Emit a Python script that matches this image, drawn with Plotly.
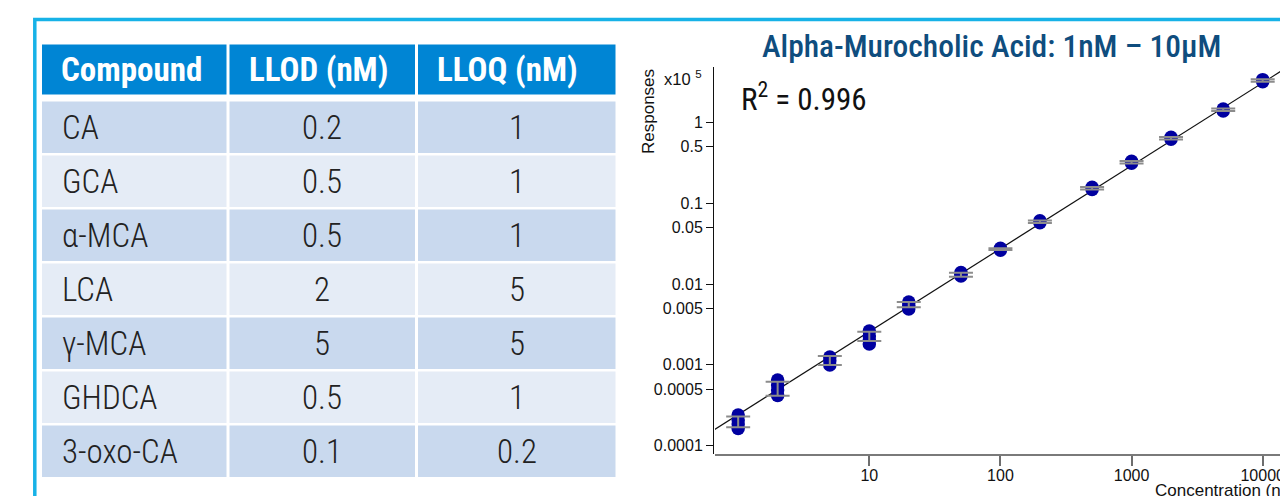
import numpy as np
import plotly.graph_objects as go

# ---------------- table contents ----------------
headers = ["Compound", "LLOD (nM)", "LLOQ (nM)"]
compounds = ["CA", "GCA", "α-MCA", "LCA", "γ-MCA", "GHDCA", "3-oxo-CA"]
llod_nm = ["0.2", "0.5", "0.5", "2", "5", "0.5", "0.1"]
lloq_nm = ["1", "1", "1", "5", "5", "1", "0.2"]

# ---------------- calibration data (responses, x10^5) ----------------
conc_nm = [1, 2, 5, 10, 20, 50, 100, 200, 500, 1000, 2000, 5000, 10000]
replicates = [
    [2.40e-4, 2.08e-4, 1.85e-4, 1.63e-4],
    [6.50e-4, 5.64e-4, 4.89e-4, 4.18e-4],
    [1.25e-3, 1.12e-3, 9.96e-4],
    [2.62e-3, 2.28e-3, 2.03e-3, 1.81e-3],
    [5.98e-3, 5.42e-3, 4.91e-3],
    [1.387e-2, 1.32e-2, 1.255e-2],
    [2.77e-2, 2.61e-2],
    [6.07e-2, 5.73e-2],
    [0.157, 0.148],
    [0.329, 0.311],
    [0.652, 0.616],
    [1.46, 1.38],
    [3.37, 3.18],
]
bar_high = [2.29e-4, 6.19e-4, 1.285e-3, 2.57e-3, 5.98e-3, 1.38e-2, 2.77e-2,
            6.10e-2, 0.1585, 0.332, 0.658, 1.483, 3.41]
bar_low = [1.69e-4, 4.15e-4, 9.96e-4, 1.97e-3, 5.15e-3, 1.23e-2, 2.634e-2,
           5.68e-2, 0.1476, 0.309, 0.612, 1.380, 3.18]
fit_slope = 1.026          # log-log slope of the calibration fit
fit_log_intercept = -3.615  # log10 response at 1 nM
r_squared = "0.996"

y_tick_vals = [1, 0.5, 0.1, 0.05, 0.01, 0.005, 0.001, 0.0005, 0.0001]
y_tick_text = ["1", "0.5", "0.1", "0.05", "0.01", "0.005", "0.001", "0.0005", "0.0001"]
x_tick_vals = [10, 100, 1000, 10000]
x_tick_text = ["10", "100", "1000", "10000"]

W, H = 1280, 496


def px(x):
    return x / W


def py(y):
    return 1 - y / H


CONDENSED = "Roboto Condensed, Liberation Sans Narrow, Roboto, sans-serif"
ARIAL = "Liberation Sans, Arial, Helvetica, sans-serif"

fig = go.Figure()

# fitted calibration line
x_fit = np.array([10 ** -0.4, 10 ** 4.4])
y_fit = 10 ** (fit_slope * np.log10(x_fit) + fit_log_intercept)
fig.add_trace(go.Scatter(x=x_fit, y=y_fit, mode="lines",
                         line=dict(color="#111111", width=1.2),
                         hoverinfo="skip", showlegend=False))

# replicate injections
xs, ys = [], []
for c, reps in zip(conc_nm, replicates):
    xs += [c] * len(reps)
    ys += reps
fig.add_trace(go.Scatter(x=xs, y=ys, mode="markers",
                         marker=dict(size=13.5, color="#0000a0", line=dict(width=0)),
                         showlegend=False))

# spread bars at each level
hi = np.array(bar_high)
lo = np.array(bar_low)
mid = np.sqrt(hi * lo)
fig.add_trace(go.Scatter(x=conc_nm, y=mid, mode="markers",
                         marker=dict(size=1, color="rgba(0,0,0,0)"),
                         error_y=dict(type="data", symmetric=False,
                                      array=hi - mid, arrayminus=mid - lo,
                                      color="#8c8c8c", thickness=2, width=12),
                         showlegend=False))

shapes = []
annotations = []

# outer frame
shapes.append(dict(type="rect", xref="paper", yref="paper",
                   x0=px(34.8), x1=px(1300), y0=py(520), y1=py(19.5),
                   line=dict(color="#17b2e7", width=3.5), fillcolor="rgba(0,0,0,0)"))

# table geometry
col_edges = [(42, 226.5), (229.5, 415), (418, 615.5)]
head_top, head_bot = 44.5, 94.5
row_top0, row_pitch, row_h = 101.5, 54.0, 51.5
row_fills = ["#c9d9ee", "#e5ecf6"]

for (c0, c1), h in zip(col_edges, headers):
    shapes.append(dict(type="rect", xref="paper", yref="paper", layer="below",
                       x0=px(c0), x1=px(c1), y0=py(head_bot), y1=py(head_top),
                       line=dict(width=0), fillcolor="#0085d4"))
    annotations.append(dict(xref="paper", yref="paper", x=px(c0 + 17),
                            y=py((head_top + head_bot) / 2),
                            xanchor="left", yanchor="middle", showarrow=False,
                            text=h, font=dict(family=CONDENSED, size=33,
                                              color="white", weight="bold")))

for i, row in enumerate(zip(compounds, llod_nm, lloq_nm)):
    top = row_top0 + i * row_pitch
    bot = top + row_h
    for j, ((c0, c1), val) in enumerate(zip(col_edges, row)):
        shapes.append(dict(type="rect", xref="paper", yref="paper", layer="below",
                           x0=px(c0), x1=px(c1), y0=py(bot), y1=py(top),
                           line=dict(width=0), fillcolor=row_fills[i % 2]))
        if j == 0:
            ax, anchor = px(60), "left"
        else:
            ax, anchor = px((c0 + c1) / 2), "center"
        annotations.append(dict(xref="paper", yref="paper", x=ax,
                                y=py((top + bot) / 2), xanchor=anchor,
                                yanchor="middle", showarrow=False, text=val,
                                font=dict(family=CONDENSED, size=33,
                                          color="#222222", weight=300)))

# chart title and labels
annotations.append(dict(xref="paper", yref="paper", x=px(991), y=py(46),
                        xanchor="center", yanchor="middle", showarrow=False,
                        text="Alpha-Murocholic Acid: 1nM \u2013 10\u00b5M",
                        font=dict(family=CONDENSED, size=31.5, color="#0f4d7e",
                                  weight=500)))
annotations.append(dict(xref="paper", yref="paper", x=px(739), y=py(98),
                        xanchor="left", yanchor="middle", showarrow=False,
                        text="R<sup>2</sup> = " + r_squared,
                        font=dict(family=CONDENSED, size=31, color="#111111")))
annotations.append(dict(xref="paper", yref="paper", x=px(662), y=py(78),
                        xanchor="left", yanchor="middle", showarrow=False,
                        text="x10 <sup>5</sup>",
                        font=dict(family=ARIAL, size=16.5, color="#111111")))
annotations.append(dict(xref="paper", yref="paper", x=px(648), y=py(112),
                        xanchor="center", yanchor="middle", showarrow=False,
                        textangle=-90, text="Responses",
                        font=dict(family=ARIAL, size=17, color="#111111")))
annotations.append(dict(xref="paper", yref="paper", x=px(1153), y=py(490),
                        xanchor="left", yanchor="middle", showarrow=False,
                        text="Concentration (nM)",
                        font=dict(family=ARIAL, size=17, color="#111111")))

fig.update_layout(
    width=W, height=H, autosize=False,
    margin=dict(l=0, r=0, t=0, b=0, pad=0),
    paper_bgcolor="white", plot_bgcolor="rgba(0,0,0,0)",
    showlegend=False,
    shapes=shapes, annotations=annotations,
    xaxis=dict(type="log", domain=[px(715), 1.0], range=[-0.1767, 4.132],
               anchor="free", position=py(455),
               showgrid=False, zeroline=False,
               showline=True, linecolor="#7a7a7a", linewidth=2,
               ticks="outside", ticklen=10, tickwidth=1.5, tickcolor="#6e6e6e",
               tickvals=x_tick_vals, ticktext=x_tick_text,
               tickfont=dict(family=ARIAL, size=16, color="#111111"),
               ticklabeloverflow="allow", ticklabelstandoff=-4,
               automargin=False),
    yaxis=dict(type="log", domain=[py(454), py(67)], range=[-4.1027, 0.684],
               anchor="free", position=px(713),
               showgrid=False, zeroline=False,
               showline=True, linecolor="#111111", linewidth=1,
               ticks="outside", ticklen=7, tickwidth=1, tickcolor="#111111",
               tickvals=y_tick_vals, ticktext=y_tick_text,
               tickfont=dict(family=ARIAL, size=16, color="#111111"),
               ticklabeloverflow="allow",
               automargin=False),
)

fig.write_html("out.html", config={"displayModeBar": False})
